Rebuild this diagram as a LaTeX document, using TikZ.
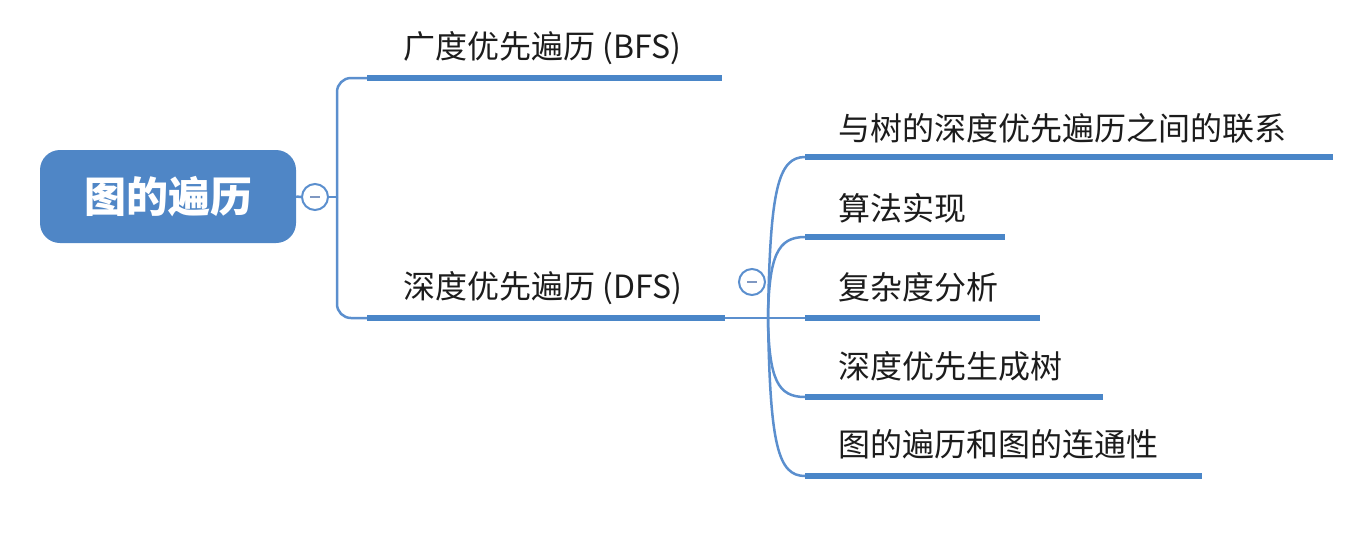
\documentclass[tikz,border=0pt]{standalone}
\usepackage{fontspec}
\setmainfont{Noto Sans CJK SC}
\usepackage{xcolor}
\usepackage{tikz}
\usetikzlibrary{positioning,calc}

\definecolor{rootblue}{HTML}{4F86C6}
\definecolor{barblue}{HTML}{4A86C8}
\definecolor{linkblue}{HTML}{5B8FCE}
\definecolor{minusgrey}{HTML}{7F98C2}
\definecolor{textgrey}{HTML}{1C1C1C}

\begin{document}
\begin{tikzpicture}[x=1pt,y=-1pt,
  root/.style={rectangle, rounded corners=20pt, fill=rootblue, text=white,
    minimum width=256pt, minimum height=93pt, inner sep=0pt,
    font=\bfseries\fontsize{42}{50}\selectfont},
  leaf/.style={anchor=west, inner sep=0pt, text=textgrey,
    font=\fontsize{32}{38}\selectfont},
  bar/.style={line width=6pt, draw=barblue},
  link/.style={line width=2.5pt, draw=linkblue},
  fold/.style={circle, draw=linkblue, line width=2pt, fill=white,
    minimum size=26pt, inner sep=0pt},
  minus/.style={line width=2pt, draw=minusgrey}]
\useasboundingbox (0,0) rectangle (1346,547);

% Root
\node[root] (root) at (168,196.5) {图的遍历};
\node[fold] (rootfold) at (315,197) {};
\draw[minus] ([xshift=-5pt]rootfold.center) -- ([xshift=5pt]rootfold.center);
\coordinate (rootjoin) at (337,197);

% First level
\node[leaf] (bfs) at (403,48) {广度优先遍历 (BFS)};
\coordinate (bfs w) at (367,78);
\coordinate (bfs e) at (722,78);
\node[leaf] (dfs) at (403,288) {深度优先遍历 (DFS)};
\coordinate (dfs w) at (367,318);
\coordinate (dfs e) at (725,318);

\draw[bar] (bfs w) -- (bfs e);
\draw[bar] (dfs w) -- (dfs e);

\draw[link] (root.east) -- (rootfold.west);
\draw[link] (rootfold.east) -- (rootjoin);
\draw[link, rounded corners=14pt] (rootjoin) |- (bfs w);
\draw[link, rounded corners=14pt] (rootjoin) |- (dfs w);

% Second level
\coordinate (hub) at (768,318);
\node[fold] (dfsfold) at (752,282) {};
\draw[minus] ([xshift=-5pt]dfsfold.center) -- ([xshift=5pt]dfsfold.center);

\node[leaf] (tree) at (838,128) {与树的深度优先遍历之间的联系};
\coordinate (tree w) at (805,157);
\coordinate (tree e) at (1333,157);
\node[leaf] (algo) at (838,208) {算法实现};
\coordinate (algo w) at (805,237);
\coordinate (algo e) at (1005,237);
\node[leaf] (cost) at (838,287) {复杂度分析};
\coordinate (cost w) at (805,318);
\coordinate (cost e) at (1040,318);
\node[leaf] (span) at (838,366) {深度优先生成树};
\coordinate (span w) at (805,397);
\coordinate (span e) at (1103,397);
\node[leaf] (conn) at (838,444) {图的遍历和图的连通性};
\coordinate (conn w) at (805,476);
\coordinate (conn e) at (1202,476);

\draw[bar] (tree w) -- (tree e);
\draw[bar] (algo w) -- (algo e);
\draw[bar] (cost w) -- (cost e);
\draw[bar] (span w) -- (span e);
\draw[bar] (conn w) -- (conn e);

\draw[link] (dfs e) -- (cost w);
\draw[link] (hub) .. controls (770,190) and (778,157) .. (tree w);
\draw[link] (hub) .. controls (769,255) and (778,237) .. (algo w);
\draw[link] (hub) .. controls (769,380) and (778,397) .. (span w);
\draw[link] (hub) .. controls (770,445) and (778,476) .. (conn w);

\end{tikzpicture}
\end{document}
